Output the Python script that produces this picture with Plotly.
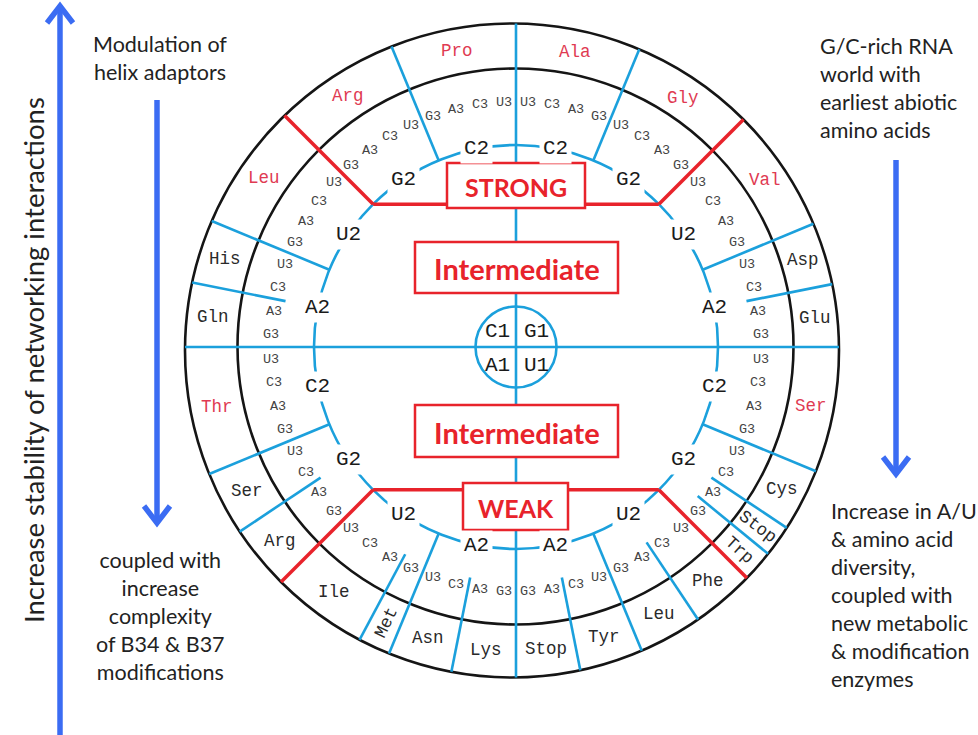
import math
import plotly.graph_objects as go

# ---------------- data ----------------
FIRST_BASES = ["G1", "U1", "C1", "A1"]          # top-right, bottom-right, top-left, bottom-left
SECOND_BASES = ["C2", "G2", "U2", "A2"]         # order moving away from the vertical axis
THIRD_BASES = ["U3", "C3", "A3", "G3"]          # order moving away from the vertical axis

AA_G1 = [["Ala", "Ala", "Ala", "Ala"], ["Gly", "Gly", "Gly", "Gly"],
         ["Val", "Val", "Val", "Val"], ["Asp", "Asp", "Glu", "Glu"]]
AA_U1 = [["Ser", "Ser", "Ser", "Ser"], ["Cys", "Cys", "Stop", "Trp"],
         ["Phe", "Phe", "Leu", "Leu"], ["Tyr", "Tyr", "Stop", "Stop"]]
AA_C1 = [["Pro", "Pro", "Pro", "Pro"], ["Arg", "Arg", "Arg", "Arg"],
         ["Leu", "Leu", "Leu", "Leu"], ["His", "His", "Gln", "Gln"]]
AA_A1 = [["Thr", "Thr", "Thr", "Thr"], ["Ser", "Ser", "Arg", "Arg"],
         ["Ile", "Ile", "Ile", "Met"], ["Asn", "Asn", "Lys", "Lys"]]

RED_BOXES = [("G1", "C2"), ("G1", "G2"), ("G1", "U2"), ("C1", "C2"), ("C1", "G2"),
             ("C1", "U2"), ("U1", "C2"), ("A1", "C2")]
ROTATED = [("U1", "G2", "Stop"), ("U1", "G2", "Trp"), ("A1", "U2", "Met")]

ZONE_LABELS = ["STRONG", "Intermediate", "Intermediate", "WEAK"]
LEFT_TOP_TEXT = "Modulation of<br>helix adaptors"
LEFT_BOTTOM_TEXT = "coupled with<br>increase<br>complexity<br>of B34 &amp; B37<br>modifications"
RIGHT_TOP_TEXT = "G/C-rich RNA<br>world with<br>earliest abiotic<br>amino acids"
RIGHT_BOTTOM_TEXT = ("Increase in A/U<br>&amp; amino acid<br>diversity,<br>coupled with<br>"
                     "new metabolic<br>&amp; modification<br>enzymes")
AXIS_TEXT = "Increase stability of networking interactions"

# ---------------- geometry / style ----------------
W, H = 978, 735
CX, CY = 516, 347
R_CENTER = 40.5
R_RING = 202
R_SPLIT = 235
R_THIRD = 245
INNER_C, R_INNER = (515.5, 346.5), 278
OUTER_C, R_OUTER = (512.0, 350.5), 327

BLUE = "#1ba0dc"
RED = "#e8232b"
AA_RED = "#e03a52"
BLACK = "#151515"
ARROW = "#3b6cf3"
MONO = "Liberation Mono, Courier New, monospace"
SANS = "Lato, Open Sans, sans-serif"

QUADS = [(1, 0, "G1", AA_G1), (1, 1, "U1", AA_U1), (-1, 0, "C1", AA_C1), (-1, 1, "A1", AA_A1)]


def unit(theta, side):
    t = math.radians(theta)
    return side * math.sin(t), -math.cos(t)


def pt(theta, r, side=1):
    dx, dy = unit(theta, side)
    return CX + r * dx, CY + r * dy


def ray_to_circle(theta, side, c, R):
    dx, dy = unit(theta, side)
    ox, oy = CX - c[0], CY - c[1]
    b = ox * dx + oy * dy
    cc = ox * ox + oy * oy - R * R
    return -b + math.sqrt(b * b - cc)


shapes = []
ann = []


def line(p0, p1, color, width):
    shapes.append(dict(type="line", x0=p0[0], y0=p0[1], x1=p1[0], y1=p1[1],
                       line=dict(color=color, width=width)))


def circle(c, r, color, width):
    shapes.append(dict(type="circle", x0=c[0] - r, x1=c[0] + r, y0=c[1] - r, y1=c[1] + r,
                       line=dict(color=color, width=width)))


def text(x, y, s, size, color, family, **kw):
    d = dict(x=x, y=y, xref="x", yref="y", text=s, showarrow=False,
             font=dict(size=size, color=color, family=family))
    d.update(kw)
    ann.append(d)


# circles
circle(OUTER_C, R_OUTER, BLACK, 2.6)
circle(INNER_C, R_INNER, BLACK, 2.6)
circle((CX, CY), R_RING, BLUE, 2.6)

# diameters
line(pt(0, ray_to_circle(0, 1, OUTER_C, R_OUTER)), pt(180, ray_to_circle(180, 1, OUTER_C, R_OUTER)), BLUE, 2.6)
line(pt(90, ray_to_circle(90, 1, OUTER_C, R_OUTER)), pt(90, ray_to_circle(90, -1, OUTER_C, R_OUTER), -1), BLUE, 2.6)

red_lines = []
for side, k, first, table in QUADS:
    for j in range(4):
        base = 90 * k + 22.5 * j
        if j > 0:
            ro = ray_to_circle(base, side, OUTER_C, R_OUTER)
            if j == 2:
                red_lines.append((pt(base, R_RING, side), pt(base, ro, side)))
            else:
                line(pt(base, R_RING, side), pt(base, ro, side), BLUE, 2.6)
        for m in range(1, 4):
            if table[j][m] != table[j][m - 1]:
                th = base + 5.625 * m
                ro = ray_to_circle(th, side, OUTER_C, R_OUTER)
                line(pt(th, R_SPLIT, side), pt(th, ro, side), BLUE, 2.6)
        # second base label
        x, y = pt(base + 11.25, R_RING, side)
        text(x, y, SECOND_BASES[j], 21, "#1a1a1a", MONO, bgcolor="white", borderpad=3)
        # third base labels
        for m in range(4):
            x, y = pt(base + 5.625 * (m + 0.5), R_THIRD, side)
            text(x, y, THIRD_BASES[m], 13.5, "#444444", MONO)
        # amino acid labels (blocks)
        m = 0
        while m < 4:
            n = m
            while n + 1 < 4 and table[j][n + 1] == table[j][m]:
                n += 1
            th = base + 5.625 * ((m + n + 1) / 2)
            ri = ray_to_circle(th, side, INNER_C, R_INNER)
            ro = ray_to_circle(th, side, OUTER_C, R_OUTER)
            x, y = pt(th, (ri + ro) / 2, side)
            aa = table[j][m]
            col = AA_RED if (first, SECOND_BASES[j]) in RED_BOXES else "#2a2a2a"
            ang = 0
            if (first, SECOND_BASES[j], aa) in ROTATED:
                dx, dy = unit(th, side)
                if dx < 0:
                    dx, dy = -dx, -dy
                ang = math.degrees(math.atan2(dy, dx))
            text(x, y, aa, 17.5, col, MONO, textangle=ang)
            m = n + 1

# centre circle and first-base labels
circle((CX, CY), R_CENTER, BLUE, 2.6)
text(CX - 19, CY - 16, FIRST_BASES[2], 21, "#1a1a1a", MONO)
text(CX + 20, CY - 16, FIRST_BASES[0], 21, "#1a1a1a", MONO)
text(CX - 19, CY + 18, FIRST_BASES[3], 21, "#1a1a1a", MONO)
text(CX + 20, CY + 18, FIRST_BASES[1], 21, "#1a1a1a", MONO)

# red strong / weak borders
for p0, p1 in red_lines:
    line(p0, p1, RED, 3.5)
top_y = pt(45, R_RING)[1]
bot_y = pt(135, R_RING)[1]
boxes = [(447, 163, 585, 208), (415, 242, 618, 293), (415, 405, 618, 457), (463, 483, 568, 530)]
box_font = [25, 29, 29, 25]
line(pt(315, R_RING, 1), (boxes[0][0], top_y), RED, 3.5)
line(pt(45, R_RING, 1), (boxes[0][2], top_y), RED, 3.5)
line(pt(225, R_RING, 1), (boxes[3][0], bot_y), RED, 3.5)
line(pt(135, R_RING, 1), (boxes[3][2], bot_y), RED, 3.5)
for (x0, y0, x1, y1), lab, fs in zip(boxes, ZONE_LABELS, box_font):
    shapes.append(dict(type="rect", x0=x0, y0=y0, x1=x1, y1=y1, fillcolor="white",
                       line=dict(color=RED, width=2.5)))
    text((x0 + x1) / 2, (y0 + y1) / 2 + 1, "<b>" + lab + "</b>", fs, RED, SANS)


# arrows
def arrow(x, y_tail, y_tip, width=5.5, wing=13, depth=17):
    line((x, y_tail), (x, y_tip), ARROW, width)
    d = -depth if y_tip > y_tail else depth
    shapes.append(dict(type="path",
                       path=f"M {x - wing} {y_tip + d} L {x} {y_tip} L {x + wing} {y_tip + d}",
                       line=dict(color=ARROW, width=width)))


arrow(60, 740, 6)
arrow(157, 100, 523)
arrow(896, 160, 474)

text(33, 360, AXIS_TEXT, 27.5, "#222222", SANS, textangle=-90)
text(160, 58, LEFT_TOP_TEXT, 21.5, "#222222", SANS, align="center")
text(160, 616, LEFT_BOTTOM_TEXT, 21.5, "#222222", SANS, align="center")
text(818, 88, RIGHT_TOP_TEXT, 21.5, "#222222", SANS, align="left", xanchor="left")
text(829, 595, RIGHT_BOTTOM_TEXT, 21.5, "#222222", SANS, align="left", xanchor="left")

fig = go.Figure()
fig.update_layout(
    width=W, height=H, margin=dict(l=0, r=0, t=0, b=0),
    paper_bgcolor="white", plot_bgcolor="white",
    xaxis=dict(range=[0, W], visible=False, fixedrange=True),
    yaxis=dict(range=[H, 0], visible=False, fixedrange=True),
    shapes=shapes, annotations=ann, showlegend=False,
)
fig.write_html("out.html", config={"displayModeBar": False},
               post_script="document.body.style.margin='0px';")
